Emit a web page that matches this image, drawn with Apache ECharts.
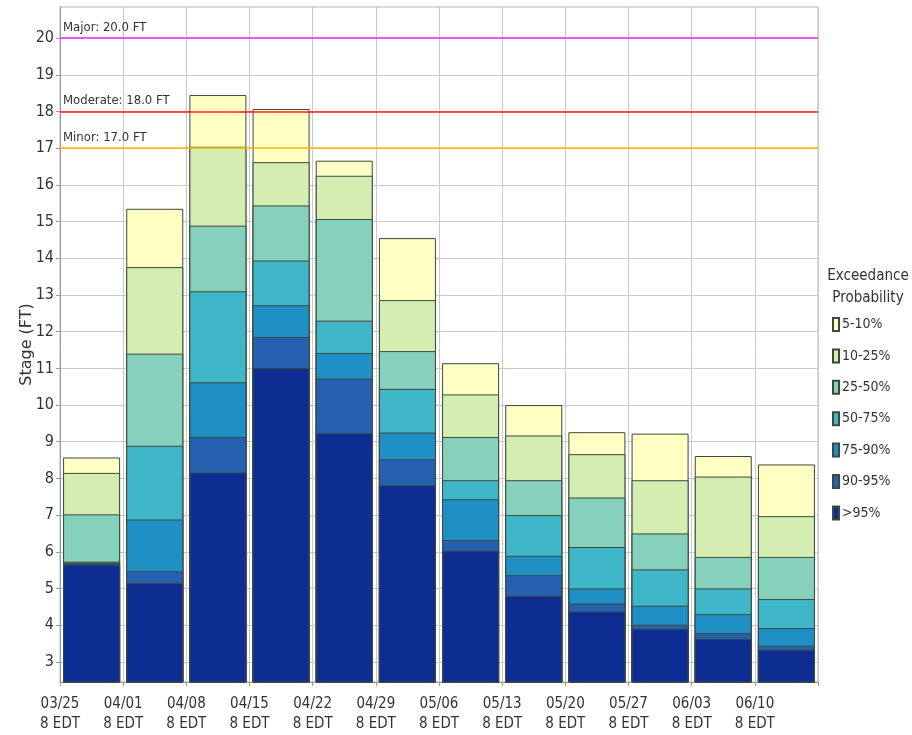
<!DOCTYPE html>
<html>
<head>
<meta charset="utf-8">
<title>Stage Exceedance Probability</title>
<script src="https://cdn.jsdelivr.net/npm/echarts@6/dist/echarts.min.js"></script>
<style>
  html, body { margin: 0; padding: 0; background: #ffffff; }
  #chart { width: 912px; height: 735px; }
</style>
</head>
<body>
<div id="chart"></div>
<script>
// Weekly forecast start dates (x-axis ticks)
const weekLabels = ['03/25', '04/01', '04/08', '04/15', '04/22', '04/29',
                    '05/06', '05/13', '05/20', '05/27', '06/03', '06/10'];
const timeLabel = '8 EDT';

// Exceedance probability bands, drawn from the highest stage down
const probNames = ['5-10%', '10-25%', '25-50%', '50-75%', '75-90%', '90-95%', '>95%'];

// Upper stage (FT) of each band for every week
const stage5to10  = [8.57, 15.35, 18.45, 18.07, 16.66, 14.55, 11.14, 10.00, 9.26, 9.22, 8.61, 8.38];
const stage10to25 = [8.15, 13.76, 17.04, 16.62, 16.25, 12.86, 10.29, 9.17, 8.66, 7.95, 8.05, 6.97];
const stage25to50 = [7.02, 11.40, 14.89, 15.44, 15.07, 11.47, 9.13, 7.95, 7.48, 6.50, 5.86, 5.86];
const stage50to75 = [5.73, 8.89, 13.10, 13.94, 12.30, 10.44, 7.95, 7.00, 6.13, 5.52, 5.00, 4.71];
const stage75to90 = [5.70, 6.88, 10.62, 12.72, 11.42, 9.25, 7.43, 5.89, 5.00, 4.53, 4.30, 3.92];
const stage90to95 = [5.68, 5.47, 9.13, 11.85, 10.72, 8.52, 6.32, 5.36, 4.59, 4.01, 3.78, 3.44];
const stageOver95 = [5.65, 5.15, 8.16, 11.01, 9.23, 7.81, 6.03, 4.80, 4.37, 3.90, 3.62, 3.33];

// Stage axis tick values
const stageTicks = [3, 4, 5, 6, 7, 8, 9, 10, 11, 12, 13, 14, 15, 16, 17, 18, 19, 20];

// Flood categories
const floodNames  = ['Major', 'Moderate', 'Minor'];
const floodStages = [20.0, 18.0, 17.0];

const bandStages = [stage5to10, stage10to25, stage25to50, stage50to75,
                    stage75to90, stage90to95, stageOver95];
const bandColors = ['#ffffc4', '#d3eeb0', '#86d1bc', '#40b7c9', '#1e90c6', '#2561b0', '#0e2d92'];
const floodColors = ['#ff22ff', '#ff1a1a', '#ffb400'];

const condensed = '"DejaVu Sans Condensed", "DejaVu Sans", sans-serif';
const gridColor = '#c9c9c9';

const chart = echarts.init(document.getElementById('chart'), null, { renderer: 'canvas' });

// Each band is a bar from zero up to its stage; later (lower) bands overlap earlier ones
const series = probNames.map((name, k) => {
  const s = {
    name: name,
    type: 'bar',
    barWidth: 57,
    barGap: '-100%',
    animation: false,
    itemStyle: {
      color: bandColors[k],
      borderColor: '#3c4a3c',
      borderWidth: 1
    },
    emphasis: { disabled: true },
    data: bandStages[k].map((v, i) => [i + 0.5, v])
  };
  if (k === probNames.length - 1) {
    s.markLine = {
      silent: true,
      symbol: 'none',
      animation: false,
      data: floodNames.map((fname, j) => ({
        yAxis: floodStages[j],
        lineStyle: { color: floodColors[j], width: 1.5, type: 'solid' },
        label: {
          show: true,
          position: 'insideStartTop',
          distance: [3, 4],
          formatter: fname + ': ' + floodStages[j].toFixed(1) + ' FT',
          color: '#333',
          fontSize: 13,
          fontFamily: condensed
        }
      }))
    };
  }
  return s;
});

chart.setOption({
  backgroundColor: '#ffffff',
  animation: false,
  title: {
    text: 'Exceedance\nProbability',
    left: 863,
    top: 260,
    textAlign: 'center',
    textStyle: {
      fontSize: 15,
      fontWeight: 'normal',
      color: '#333',
      lineHeight: 22,
      fontFamily: condensed
    }
  },
  legend: {
    orient: 'vertical',
    left: 827,
    top: 312,
    itemWidth: 6,
    itemHeight: 13,
    itemGap: 16.4,
    selectedMode: false,
    icon: 'rect',
    textStyle: { fontSize: 14, color: '#333', fontFamily: condensed, padding: [0, 0, 0, -2] },
    data: probNames
  },
  grid: {
    left: 60,
    right: 94,
    top: 7,
    bottom: 53,
    show: true,
    borderColor: '#b4b4b4',
    borderWidth: 1
  },
  xAxis: {
    type: 'value',
    min: 0,
    max: 12,
    interval: 1,
    axisLine: { show: true, lineStyle: { color: '#9a9a9a' } },
    axisTick: { show: true, length: 4, lineStyle: { color: '#9a9a9a' } },
    splitLine: { show: true, lineStyle: { color: gridColor } },
    axisLabel: {
      formatter: v => (weekLabels[v] !== undefined ? weekLabels[v] + '\n' + timeLabel : ''),
      fontSize: 15,
      lineHeight: 20,
      margin: 12,
      color: '#333',
      fontFamily: condensed
    }
  },
  yAxis: {
    type: 'value',
    min: 2.45,
    max: 20.85,
    name: 'Stage (FT)',
    nameLocation: 'middle',
    nameGap: 25,
    nameMoveOverlap: false,
    nameTextStyle: { fontSize: 16, color: '#333', fontFamily: '"DejaVu Sans", sans-serif' },
    axisLine: { show: true, lineStyle: { color: '#9a9a9a' } },
    axisTick: { show: true, length: 4, customValues: stageTicks, lineStyle: { color: '#9a9a9a' } },
    splitLine: { show: true, lineStyle: { color: gridColor } },
    axisLabel: {
      customValues: stageTicks,
      fontSize: 16,
      margin: 6,
      color: '#333',
      fontFamily: condensed
    }
  },
  series: series
});
</script>
</body>
</html>
